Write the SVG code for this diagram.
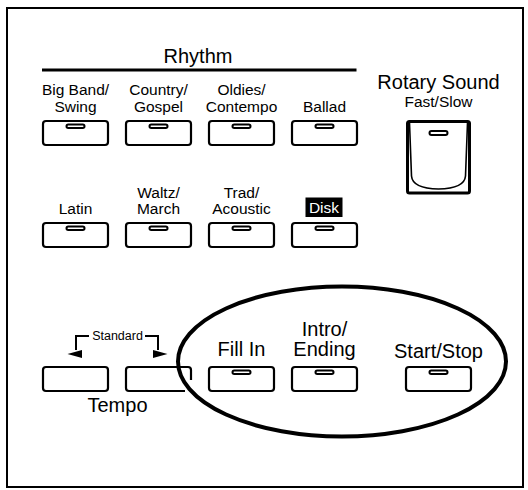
<svg xmlns="http://www.w3.org/2000/svg" width="528" height="490" viewBox="0 0 528 490">
<style>
.t{font-family:"Liberation Sans",Arial,Helvetica,sans-serif;fill:#000;text-anchor:middle}
.s{font-size:15.5px}
.m{font-size:20px}
.btn{fill:#fff;stroke:#000;stroke-width:2.2}
.led{fill:#fff;stroke:#000;stroke-width:2}
.ln{fill:none;stroke:#000}
</style>
<defs>
<g id="button"><rect class="btn" x="0" y="0" width="65" height="24" rx="3"/><rect class="led" x="23.5" y="3.5" width="18" height="3.5" rx="1.75"/></g>
</defs>
<rect x="7" y="8" width="516" height="479" fill="#fff" stroke="#000" stroke-width="2"/>

<g id="rhythm-header">
<text class="t m" x="198" y="63">Rhythm</text>
<line x1="42" y1="70" x2="356.5" y2="70" stroke="#000" stroke-width="3"/>
</g>

<g id="bigband"><text class="t s" x="75.5" y="95">Big Band/</text><text class="t s" x="75.5" y="112">Swing</text><use href="#button" x="43" y="121"/></g>
<g id="country"><text class="t s" x="158.5" y="95">Country/</text><text class="t s" x="158.5" y="112">Gospel</text><use href="#button" x="126" y="121"/></g>
<g id="oldies"><text class="t s" x="241.5" y="95">Oldies/</text><text class="t s" x="241.5" y="112">Contempo</text><use href="#button" x="209" y="121"/></g>
<g id="ballad"><text class="t s" x="324.5" y="112">Ballad</text><use href="#button" x="292" y="121"/></g>

<g id="latin"><text class="t s" x="75.5" y="214">Latin</text><use href="#button" x="43" y="223"/></g>
<g id="waltz"><text class="t s" x="158.5" y="198">Waltz/</text><text class="t s" x="158.5" y="214">March</text><use href="#button" x="126" y="223"/></g>
<g id="trad"><text class="t s" x="241.5" y="198">Trad/</text><text class="t s" x="241.5" y="214">Acoustic</text><use href="#button" x="209" y="223"/></g>
<g id="disk"><rect x="305.5" y="197.5" width="37" height="19.5" fill="#000"/><text class="t s" x="324" y="213" style="fill:#fff">Disk</text><use href="#button" x="292" y="223"/></g>

<g id="rotary">
<text class="t m" x="438.5" y="89">Rotary Sound</text>
<text class="t s" x="438.5" y="107">Fast/Slow</text>
<rect x="407.5" y="121.5" width="62" height="71.5" rx="2" fill="#fff" stroke="#000" stroke-width="3"/>
<path class="ln" stroke-width="1.6" d="M409.5,123 L411.5,176 Q412.5,188.5 438.5,189 Q464.5,188.5 465.5,176 L467.5,123"/>
<rect class="led" x="429.5" y="131" width="18" height="4" rx="2"/>
</g>

<g id="tempo">
<text class="t" x="117.5" y="340" style="font-size:12.5px">Standard</text>
<rect class="btn" x="43" y="367" width="65" height="24" rx="3"/>
<path class="ln" stroke-width="2.2" d="M185,391 L129,391 Q126,391 126,388 L126,370 Q126,367 129,367 L188,367 Q191,367 191,370 L191,380"/>
<text class="t m" x="117.5" y="412">Tempo</text>
</g>

<g id="connectors">
<path class="ln" stroke-width="2" d="M89,336 L76,336 L76,350"/>
<polygon points="67.5,354 82,350 82,358" fill="#000"/>
<path class="ln" stroke-width="2" d="M145,336 L158,336 L158,350"/>
<polygon points="167.5,354 153,350 153,358" fill="#000"/>
</g>

<g id="fillin"><text class="t m" x="241.5" y="356">Fill In</text><use href="#button" x="209" y="367"/></g>
<g id="intro"><text class="t m" x="324.5" y="336">Intro/</text><text class="t m" x="324.5" y="356">Ending</text><use href="#button" x="292" y="367"/></g>
<g id="startstop"><text class="t m" x="438.5" y="357.5">Start/Stop</text><use href="#button" x="406" y="367"/></g>

<g id="highlight">
<ellipse cx="342" cy="361.5" rx="164" ry="75" fill="none" stroke="#000" stroke-width="4"/>
</g>
</svg>
